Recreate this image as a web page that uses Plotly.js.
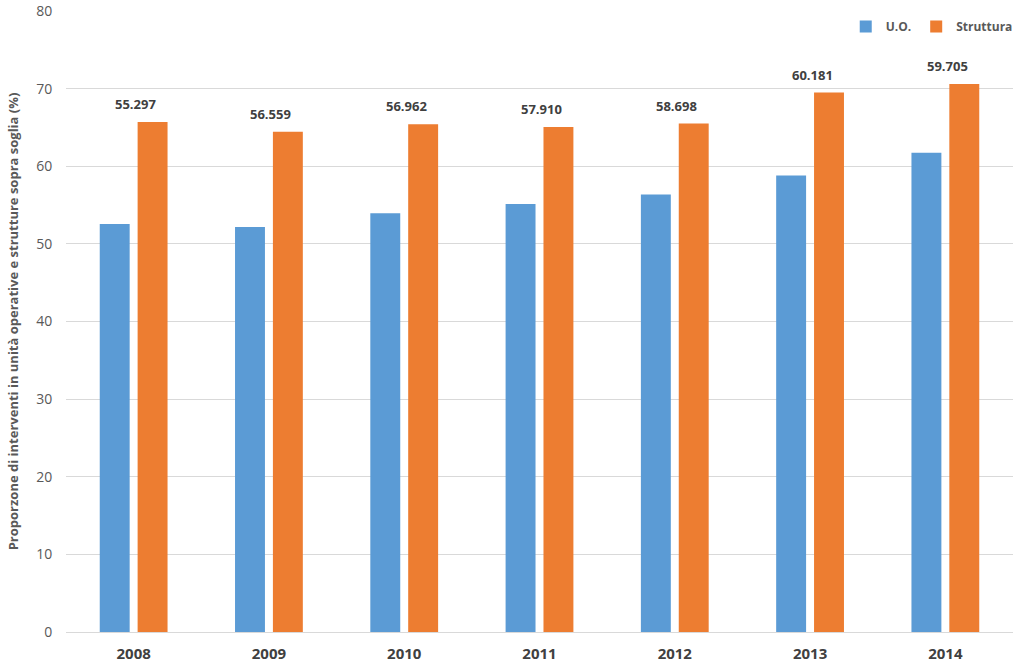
<!DOCTYPE html>
<html>
<head>
<meta charset="utf-8">
<script src="https://cdn.plot.ly/plotly-3.0.1.min.js"></script>
<style>html,body{margin:0;padding:0;background:#fff}#chart{width:1023px;height:665px}</style>
</head>
<body>
<div id="chart"></div>
<script>
const years = ['2008','2009','2010','2011','2012','2013','2014'];
const uo = [52.56, 52.17, 53.93, 55.13, 56.37, 58.8, 61.74];
const struttura = [65.69, 64.44, 65.4, 65.05, 65.5, 69.5, 70.6];
const labels = ['55.297','56.559','56.962','57.910','58.698','60.181','59.705'];

const font = "'Open Sans', 'Noto Sans', sans-serif";
const traces = [
  {type:'bar', name:'U.O.', x:years, y:uo, marker:{color:'#5B9BD5'}, hoverinfo:'y'},
  {type:'bar', name:'Struttura', x:years, y:struttura, marker:{color:'#ED7D31'}, hoverinfo:'y'}
];
const annotations = years.map((yr,i)=>({
  x: i, y: struttura[i], xref:'x', yref:'y', text: labels[i], showarrow:false,
  xshift: 2, yshift: 18, yanchor:'middle', font:{family:font, size:13, color:'#404040', weight:'bold'}
}));
const layout = {
  width:1023, height:665,
  margin:{l:66, r:5, t:11, b:33},
  paper_bgcolor:'#fff', plot_bgcolor:'#fff',
  barmode:'group', bargap:0.44, bargroupgap:0.21,
  font:{family:font, color:'#595959'},
  xaxis:{type:'category', range:[-0.5, 6.5], showgrid:false, showline:false, zeroline:false,
    ticks:'outside', ticklen:8, tickcolor:'rgba(0,0,0,0)',
    tickfont:{family:font, size:15, color:'#404040', weight:'bold'}},
  yaxis:{range:[0,80], dtick:10, showgrid:true, gridcolor:'#d9d9d9', gridwidth:1,
    zeroline:true, zerolinecolor:'#d9d9d9', zerolinewidth:1, showline:false,
    ticks:'outside', ticklen:10, tickcolor:'rgba(0,0,0,0)',
    tickfont:{family:font, size:14, color:'#595959'},
    title:{text:'Proporzone di interventi in unità operative e strutture sopra soglia (%)',
      font:{family:font, size:13, color:'#595959', weight:'bold'}, standoff:14}},
  legend:{orientation:'h', x:1.005, xanchor:'right', y:0.975, yanchor:'middle',
    font:{family:font, size:12, color:'#595959', weight:'bold'}, bgcolor:'rgba(0,0,0,0)',
    itemwidth:30, tracegroupgap:0},
  annotations: annotations,
  showlegend:true
};
Plotly.newPlot('chart', traces, layout, {displayModeBar:false, staticPlot:true});
</script>
</body>
</html>
